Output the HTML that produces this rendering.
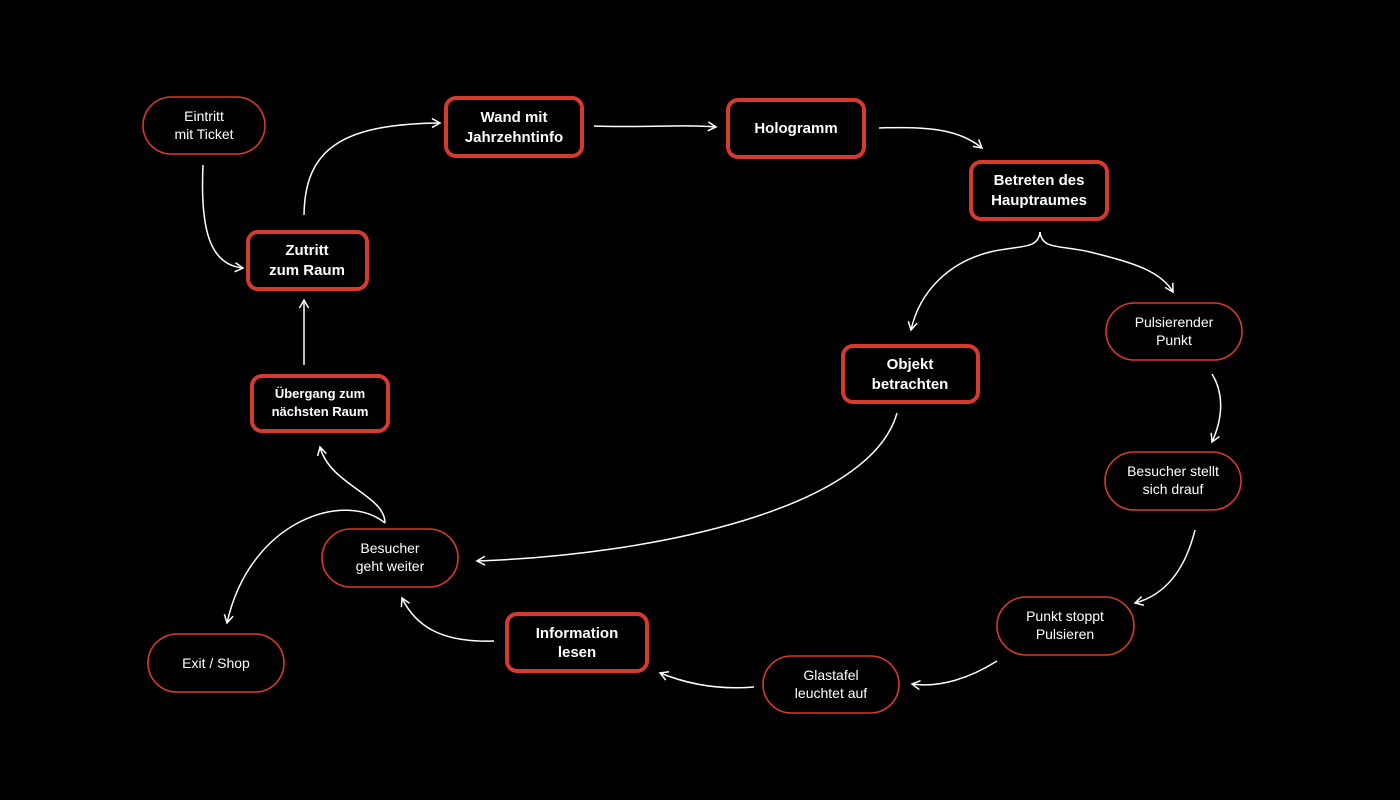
<!DOCTYPE html>
<html><head><meta charset="utf-8"><style>
html,body{margin:0;padding:0;background:#000;}
svg{display:block;}
text{font-family:"Liberation Sans",sans-serif;fill:#fff;text-anchor:middle;}
.b{font-weight:bold;font-size:15px;}
.n{font-size:14px;}
.box{fill:#000;stroke:#d63a2c;stroke-width:4;}
.pill{fill:#000;stroke:#d63a2c;stroke-width:1.6;}
.c{fill:none;stroke:#fff;stroke-width:1.5;}
</style></head><body>
<svg width="1400" height="800" viewBox="0 0 1400 800">
<defs>
<marker id="a" viewBox="0 0 12 12" refX="10" refY="6" markerWidth="12" markerHeight="12" markerUnits="userSpaceOnUse" orient="auto">
<path d="M2,1.5 L10,6 L2,10.5" fill="none" stroke="#fff" stroke-width="1.5"/>
</marker>
</defs>
<rect width="1400" height="800" fill="#000"/>
<!-- connectors -->
<path class="c" marker-end="url(#a)" d="M203,165 C200,230 210,265 243,268"/>
<path class="c" marker-end="url(#a)" d="M304,215 C305,150 340,124 440,123"/>
<path class="c" marker-end="url(#a)" d="M594,126 C640,128 680,124 716,127"/>
<path class="c" marker-end="url(#a)" d="M879,128 C930,126 960,130 982,148"/>
<path class="c" marker-end="url(#a)" d="M1040,232 C1038,250 1020,245 990,252 C950,262 920,290 911,330"/>
<path class="c" marker-end="url(#a)" d="M1040,232 C1042,250 1060,245 1090,252 C1130,262 1160,270 1173,292"/>
<path class="c" marker-end="url(#a)" d="M1212,374 C1225,395 1222,420 1212,442"/>
<path class="c" marker-end="url(#a)" d="M1195,530 C1185,570 1165,595 1135,603"/>
<path class="c" marker-end="url(#a)" d="M997,661 C970,678 940,688 912,684"/>
<path class="c" marker-end="url(#a)" d="M754,687 C720,690 690,685 660,673"/>
<path class="c" marker-end="url(#a)" d="M494,641 C440,643 415,625 402,598"/>
<path class="c" marker-end="url(#a)" d="M897,413 C870,510 650,555 477,561"/>
<path class="c" marker-end="url(#a)" d="M385,523 C385,495 330,485 320,447"/>
<path class="c" marker-end="url(#a)" d="M385,523 C345,490 250,520 227,623"/>
<path class="c" marker-end="url(#a)" d="M304,365 L304,300"/>
<!-- bold boxes -->
<rect class="box" x="446" y="98" width="136" height="58" rx="10"/>
<text class="b" x="514" y="122">Wand mit</text><text class="b" x="514" y="142">Jahrzehntinfo</text>
<rect class="box" x="728" y="100" width="136" height="57" rx="10"/>
<text class="b" x="796" y="133">Hologramm</text>
<rect class="box" x="971" y="162" width="136" height="57" rx="10"/>
<text class="b" x="1039" y="185">Betreten des</text><text class="b" x="1039" y="205">Hauptraumes</text>
<rect class="box" x="248" y="232" width="119" height="57" rx="10"/>
<text class="b" x="307" y="255">Zutritt</text><text class="b" x="307" y="275">zum Raum</text>
<rect class="box" x="843" y="346" width="135" height="56" rx="10"/>
<text class="b" x="910" y="369">Objekt</text><text class="b" x="910" y="389">betrachten</text>
<rect class="box" x="252" y="376" width="136" height="55" rx="10"/>
<text class="b" x="320" y="398" style="font-size:13px">Übergang zum</text><text class="b" x="320" y="416" style="font-size:13px">nächsten Raum</text>
<rect class="box" x="507" y="614" width="140" height="57" rx="10"/>
<text class="b" x="577" y="638">Information</text><text class="b" x="577" y="657">lesen</text>
<!-- pills -->
<rect class="pill" x="143" y="97" width="122" height="57" rx="28.5"/>
<text class="n" x="204" y="121">Eintritt</text><text class="n" x="204" y="139">mit Ticket</text>
<rect class="pill" x="1106" y="303" width="136" height="57" rx="28.5"/>
<text class="n" x="1174" y="327">Pulsierender</text><text class="n" x="1174" y="345">Punkt</text>
<rect class="pill" x="1105" y="452" width="136" height="58" rx="29"/>
<text class="n" x="1173" y="476">Besucher stellt</text><text class="n" x="1173" y="494">sich drauf</text>
<rect class="pill" x="997" y="597" width="137" height="58" rx="29"/>
<text class="n" x="1065" y="621">Punkt stoppt</text><text class="n" x="1065" y="639">Pulsieren</text>
<rect class="pill" x="763" y="656" width="136" height="57" rx="28.5"/>
<text class="n" x="831" y="680">Glastafel</text><text class="n" x="831" y="698">leuchtet auf</text>
<rect class="pill" x="322" y="529" width="136" height="58" rx="29"/>
<text class="n" x="390" y="553">Besucher</text><text class="n" x="390" y="571">geht weiter</text>
<rect class="pill" x="148" y="634" width="136" height="58" rx="29"/>
<text class="n" x="216" y="668">Exit / Shop</text>
</svg>
</body></html>
